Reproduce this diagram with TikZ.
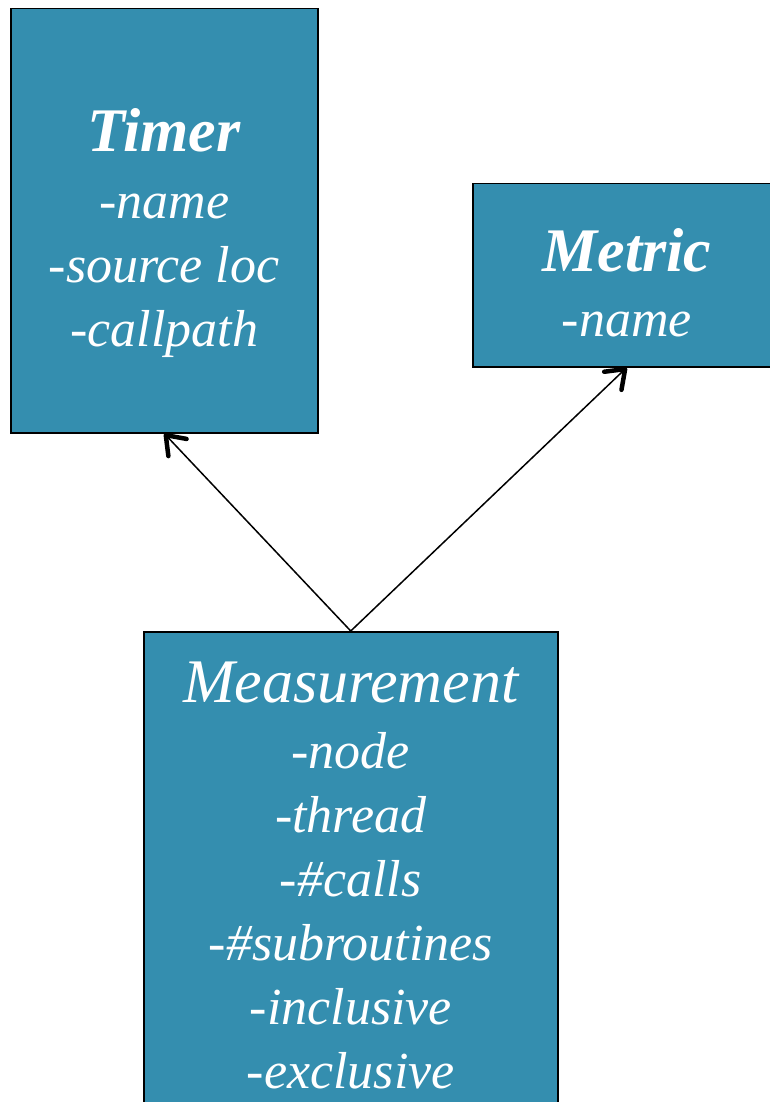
\documentclass[tikz,border=0pt]{standalone}
\usepackage{fontspec}
\setmainfont{Liberation Serif}
\usetikzlibrary{arrows.meta, positioning}
\definecolor{boxteal}{RGB}{52,142,175}
\tikzstyle{classbox} = [draw=black, line width=1.5pt, fill=boxteal, anchor=north west, inner sep=0pt]
\tikzstyle{classtext} = [text=white, align=center, inner sep=0pt, font=\fontsize{52}{64}\selectfont\itshape]
\tikzstyle{link} = [line width=1.5pt, -{Straight Barb[length=17pt, width=25pt, line width=4.5pt, round]}]
\newcommand{\classtitle}[1]{{\fontsize{62}{64}\selectfont #1}}

\begin{document}
\begin{tikzpicture}[x=1pt, y=-1pt]
\useasboundingbox (0,0) rectangle (769,1102);

% Class boxes
\node[classbox, minimum width=307pt, minimum height=424pt] (timer) at (10,8) {};
\node[classbox, minimum width=308pt, minimum height=183pt] (metric) at (472,183) {};
\node[classbox, minimum width=414pt, minimum height=520pt] (measurement) at (143,631) {};

% Class names and attributes
\node[classtext, below=100pt of timer.north] (timertext) {\classtitle{\bfseries Timer}\\[3pt] -name\\ -source loc\\ -callpath};
\node[classtext, below=45pt of metric.north] (metrictext) {\classtitle{\bfseries Metric}\\[1pt] -name};
\node[classtext, below=31pt of measurement.north] (measurementtext) {\classtitle{Measurement}\\[2pt] -node\\ -thread\\ -\#calls\\ -\#subroutines\\ -inclusive\\ -exclusive};

% Associations
\draw[link] (measurement.north) -- (timer.south);
\draw[link] (measurement.north) -- (metric.south);
\end{tikzpicture}
\end{document}
